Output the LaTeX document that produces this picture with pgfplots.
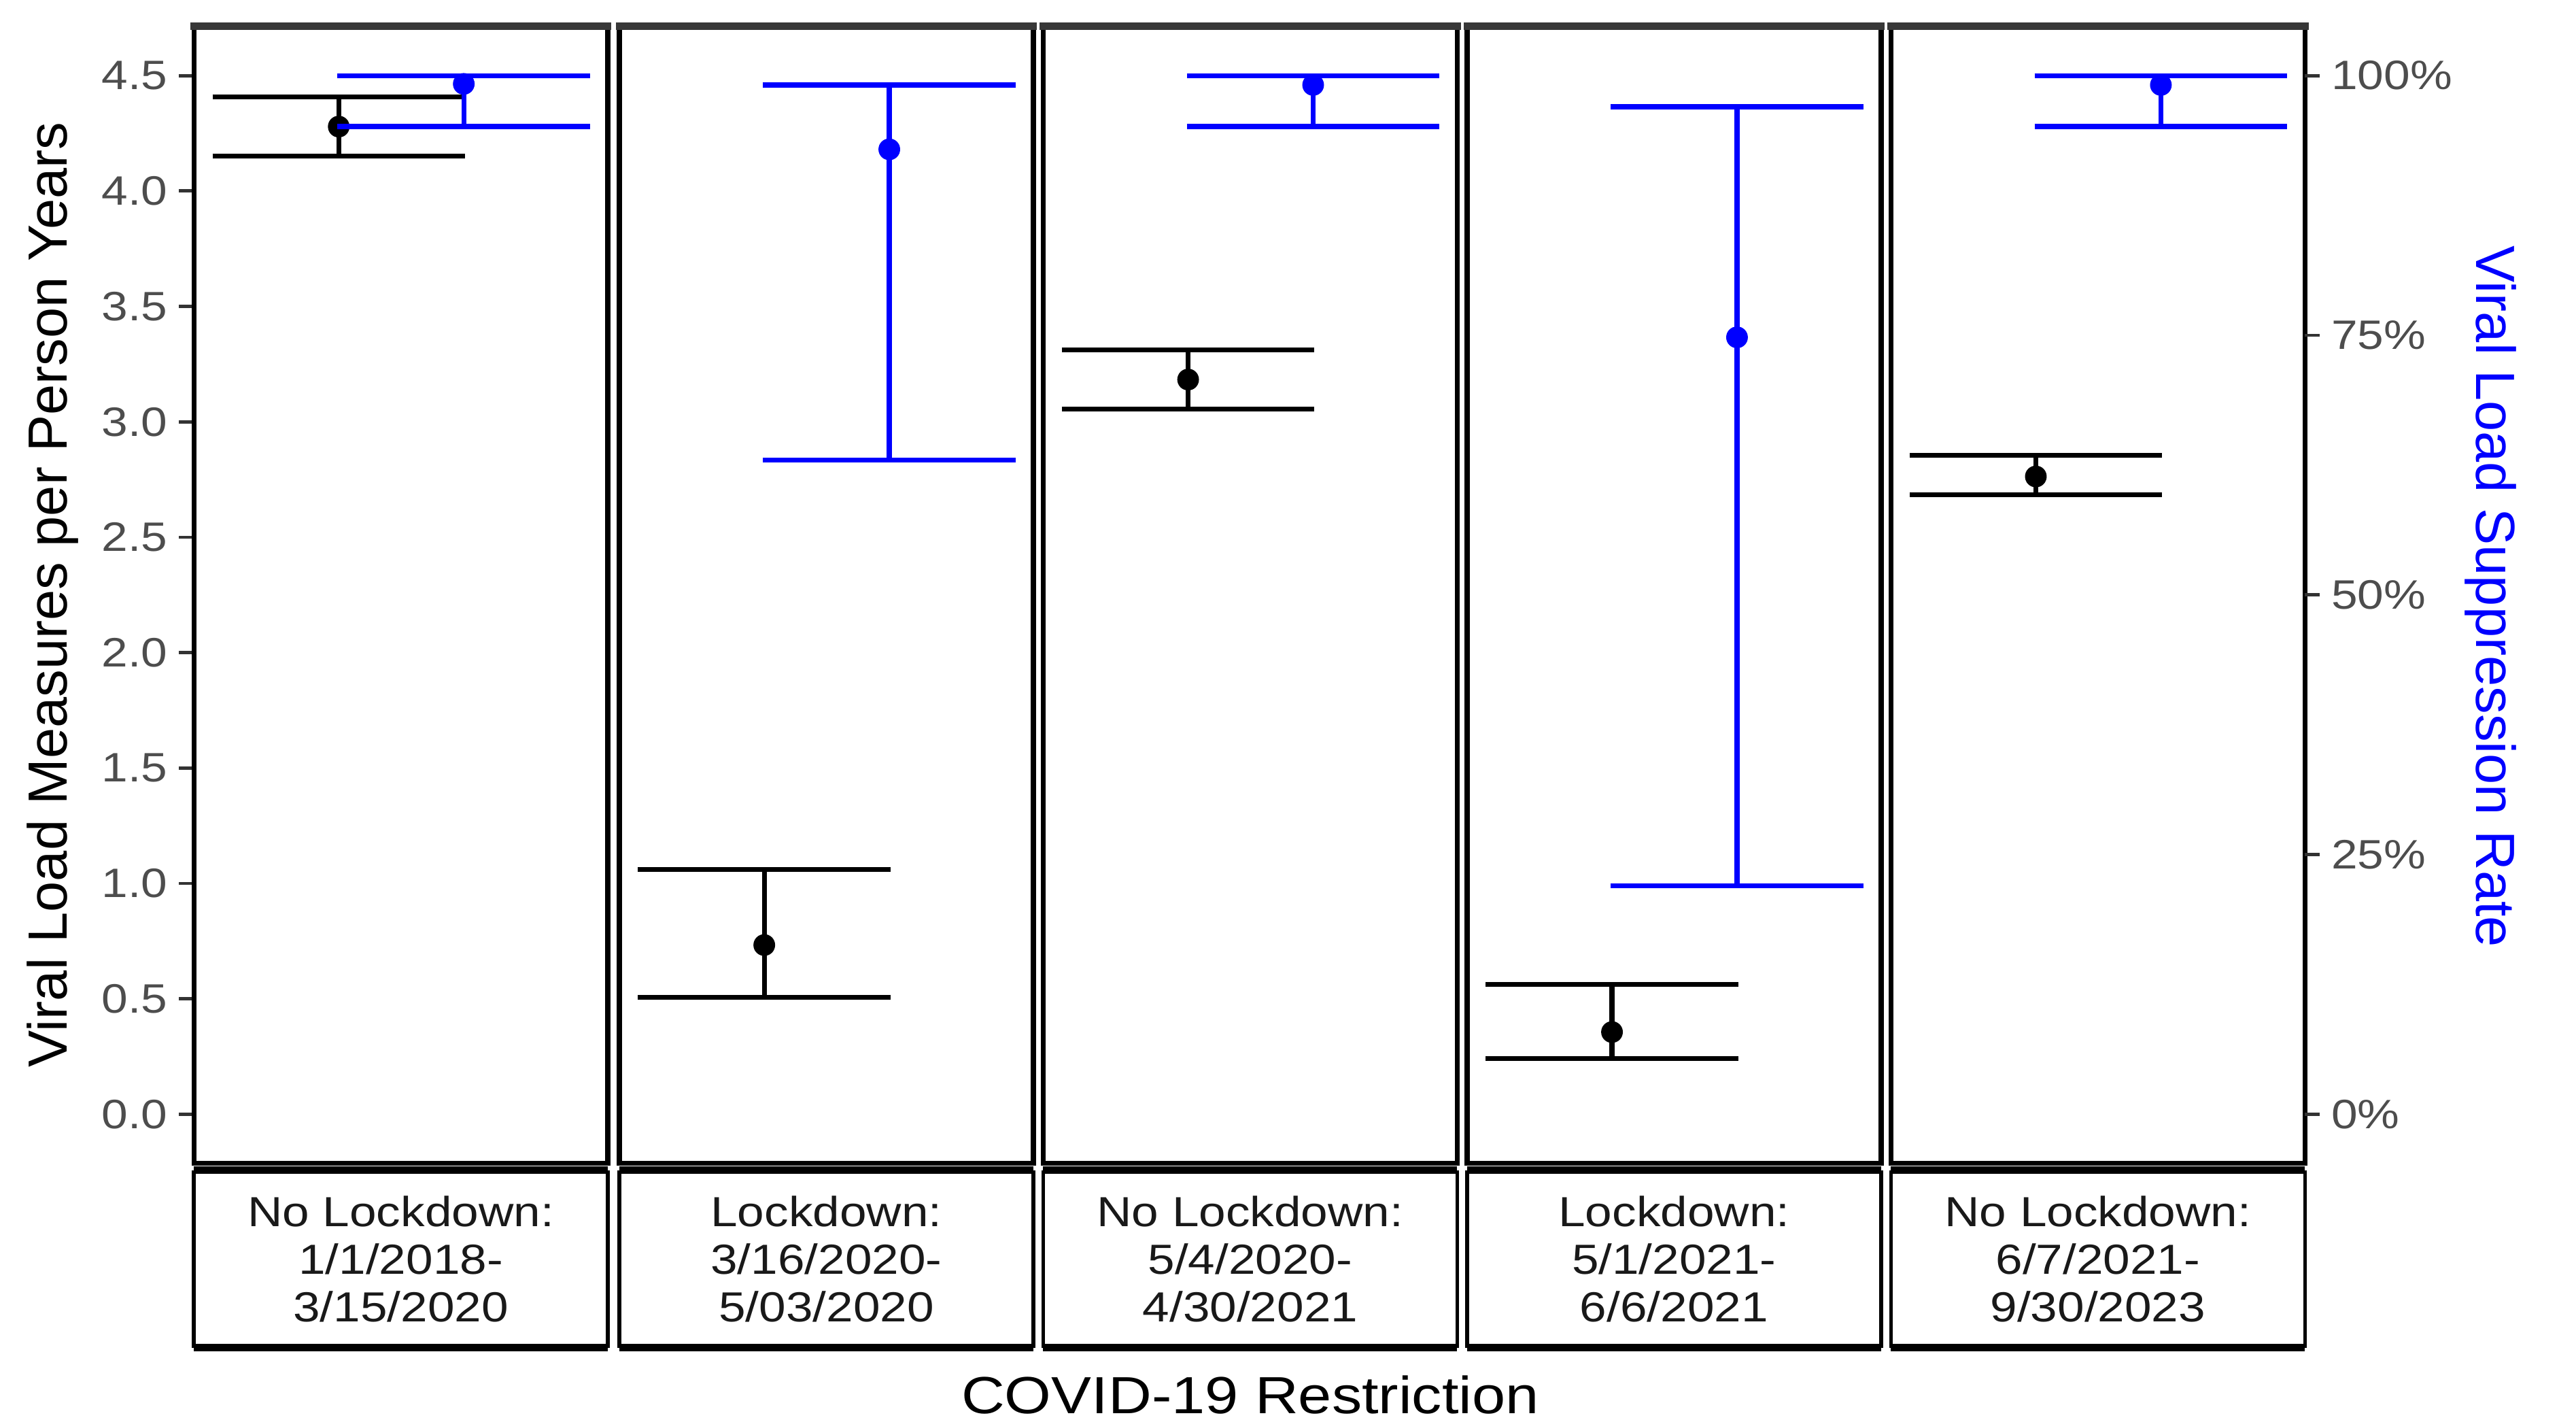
\documentclass[border=0pt]{standalone}
\usepackage{pgfplots}
\pgfplotsset{compat=1.18}
\usepackage{fontspec}
\setmainfont{Liberation Sans}[FakeStretch=1.15]
\newfontfamily\plainfont{Liberation Sans}
\usetikzlibrary{calc}
\definecolor{tickgray}{HTML}{4D4D4D}
\definecolor{tickline}{HTML}{333333}
\definecolor{topgray}{HTML}{383838}
\definecolor{vblue}{RGB}{0,0,255}

% error bar: color, x, x-left cap, x-right cap, estimate, lower, upper
\newcommand{\eb}[7]{%
  \addplot[#1, line width=1.5pt] coordinates {(#3,#6) (#4,#6)};
  \addplot[#1, line width=1.5pt] coordinates {(#3,#7) (#4,#7)};
  \addplot[#1, line width=1.5pt] coordinates {(#2,#6) (#2,#7)};
  \addplot[only marks, mark=*, mark size=3.1pt, mark options={draw=#1, fill=#1}] coordinates {(#2,#5)};
}
% panel border
\newcommand{\frameit}{%
  \draw[line width=1.5pt, black] (rel axis cs:0,0) -- (rel axis cs:0,1);
  \draw[line width=1.5pt, black] (rel axis cs:1,0) -- (rel axis cs:1,1);
  \draw[line width=1.5pt, black, line cap=rect] (rel axis cs:0,0) -- (rel axis cs:1,0);
  \draw[line width=2.2pt, topgray, line cap=rect] (rel axis cs:0,1) -- (rel axis cs:1,1);
}
\newcommand{\strip}[2]{%
  \fill[white] (#1,22pt) rectangle ++(126pt,54pt);
  \draw[line width=1.1pt] (#1,22pt) -- ++(0,54pt) ($(#1,22pt)+(126pt,0)$) -- ++(0,54pt);
  \draw[line width=2.2pt] (#1,22pt) -- ++(126pt,0) (#1,76pt) -- ++(126pt,0);
  \node[align=center, text=black!90, font=\fontsize{12.8}{14.5}\selectfont] at ($(#1,49pt)+(63pt,0)$) {#2};
}

\pgfplotsset{
  panel/.style={scale only axis, width=126pt, height=346pt, xmin=0, xmax=1,
    xtick=\empty, ytick=\empty, anchor=south west, clip=false,
    axis line style={draw=none},
    tick align=outside, major tick length=4.5pt,
    tick style={tickline, line width=1pt},
    yticklabel style={font=\fontsize{12.5}{13}\selectfont, text=tickgray},
    /pgf/number format/assume math mode=true},
  blackax/.style={panel, ymin=-0.2136, ymax=4.7136},
  blueax/.style={panel, ymin=-4.747, ymax=104.747},
}

\begin{document}
\begin{tikzpicture}
\path[use as bounding box] (0,0) rectangle (784pt,432pt);

% ---------- Panel 1 ----------
\begin{axis}[blackax, at={(59pt,78pt)},
  ytick={0,0.5,1,1.5,2,2.5,3,3.5,4,4.5}, ytick pos=left,
  yticklabel style={/pgf/number format/.cd, fixed, fixed zerofill, precision=1}]
\frameit
\eb{black}{0.35}{0.045}{0.655}{4.279}{4.151}{4.407}
\end{axis}
\begin{axis}[blueax, at={(59pt,78pt)}]
\eb{vblue}{0.652}{0.347}{0.957}{99.2}{95.1}{100}
\end{axis}

% ---------- Panel 2 ----------
\begin{axis}[blackax, at={(188.5pt,78pt)}]
\frameit
\eb{black}{0.35}{0.045}{0.655}{0.733}{0.506}{1.061}
\end{axis}
\begin{axis}[blueax, at={(188.5pt,78pt)}]
\eb{vblue}{0.652}{0.347}{0.957}{92.9}{63.0}{99.1}
\end{axis}

% ---------- Panel 3 ----------
\begin{axis}[blackax, at={(317.5pt,78pt)}]
\frameit
\eb{black}{0.35}{0.045}{0.655}{3.183}{3.055}{3.311}
\end{axis}
\begin{axis}[blueax, at={(317.5pt,78pt)}]
\eb{vblue}{0.652}{0.347}{0.957}{99.1}{95.1}{100}
\end{axis}

% ---------- Panel 4 ----------
\begin{axis}[blackax, at={(446.5pt,78pt)}]
\frameit
\eb{black}{0.35}{0.045}{0.655}{0.356}{0.242}{0.5625}
\end{axis}
\begin{axis}[blueax, at={(446.5pt,78pt)}]
\eb{vblue}{0.652}{0.347}{0.957}{74.8}{22.0}{97.0}
\end{axis}

% ---------- Panel 5 ----------
\begin{axis}[blackax, at={(575.5pt,78pt)}]
\frameit
\eb{black}{0.35}{0.045}{0.655}{2.763}{2.684}{2.855}
\end{axis}
\begin{axis}[blueax, at={(575.5pt,78pt)},
  ytick={0,25,50,75,100}, ytick pos=right,
  yticklabel={\pgfmathprintnumber{\tick}\%}]
\eb{vblue}{0.652}{0.347}{0.957}{99.1}{95.1}{100}
\end{axis}

% ---------- strips ----------
\strip{59pt}{No Lockdown:\\1/1/2018-\\3/15/2020}
\strip{188.5pt}{Lockdown:\\3/16/2020-\\5/03/2020}
\strip{317.5pt}{No Lockdown:\\5/4/2020-\\4/30/2021}
\strip{446.5pt}{Lockdown:\\5/1/2021-\\6/6/2021}
\strip{575.5pt}{No Lockdown:\\6/7/2021-\\9/30/2023}

% ---------- titles ----------
\node[rotate=90, font=\plainfont\fontsize{16.8}{18}\selectfont] at (16pt,251pt) {Viral Load Measures per Person Years};
\node[rotate=-90, text=vblue, font=\plainfont\fontsize{16.8}{18}\selectfont] at (758pt,250.5pt) {Viral Load Suppression Rate};
\node[anchor=base, font=\fontsize{15.9}{17}\selectfont] at (380.5pt,2pt) {COVID-19 Restriction};
\end{tikzpicture}
\end{document}
